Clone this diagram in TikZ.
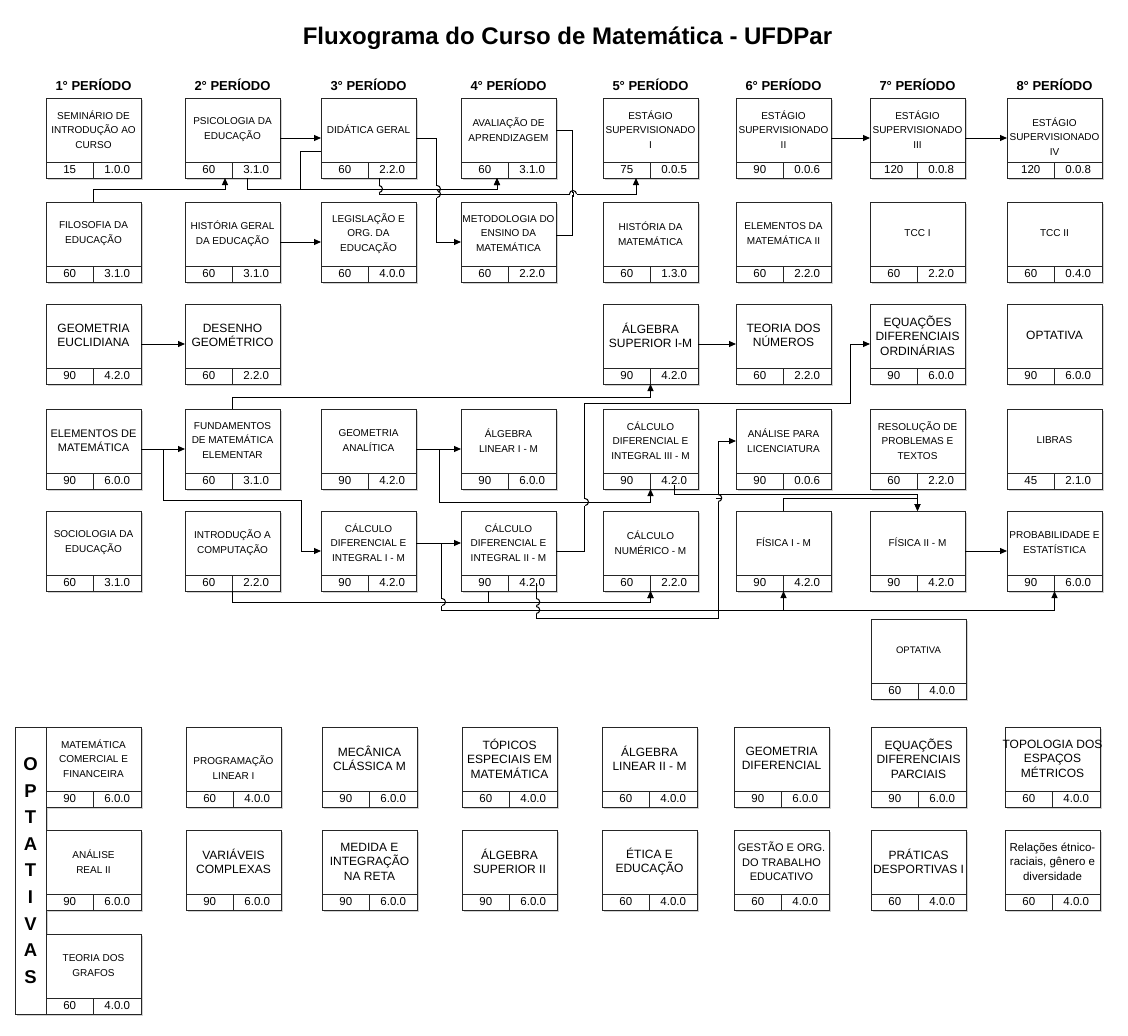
\documentclass[tikz,border=0pt]{standalone}
\usepackage{fontspec}
\setmainfont{Liberation Sans}
\usetikzlibrary{arrows.meta,positioning,shadows}

% caixa de disciplina: [estilo do texto]{nome}{posicao}{texto}{carga}{creditos}
\newcommand{\disciplina}[6][]{%
  \node[disc] (#2) at (#3) {};
  \node[txt,#1] (#2-t) at ([yshift=-31.5pt]#2.north) {#4};
  \draw[divisa] ([yshift=16pt]#2.south west) -- ([yshift=16pt]#2.south east)
    (#2.south) -- ([yshift=16pt]#2.south);
  \node[cell] (#2-h) at ([xshift=-23.75pt,yshift=8pt]#2.south) {#5};
  \node[cell] (#2-c) at ([xshift=23.75pt,yshift=8pt]#2.south) {#6};
}
% saltos nos cruzamentos
\newcommand{\saltov}[2]{%
  \draw[white, line width=2.2pt] (#1,#2-3.5) -- (#1,#2+3.5);
  \draw[ln] (#1-2.5,#2) -- (#1+2.5,#2);
  \draw[ln] (#1,#2-3.5) arc[start angle=90, end angle=-90, radius=3.5pt];
}
\newcommand{\saltoh}[2]{%
  \draw[white, line width=2.2pt] (#1-3.5,#2) -- (#1+3.5,#2);
  \draw[ln] (#1,#2-2.5) -- (#1,#2+2.5);
  \draw[ln] (#1-3.5,#2) arc[start angle=180, end angle=0, radius=3.5pt];
}

\begin{document}
\begin{tikzpicture}[
  x=1pt, y=-1pt,
  disc/.style={rectangle, draw=black!85, line width=1pt, fill=white, minimum width=95pt, minimum height=80pt,
    inner sep=0pt, outer sep=0pt, anchor=north west,
    drop shadow={shadow xshift=2pt, shadow yshift=-2pt, fill=black, opacity=0.18}},
  txt/.style={align=center, inner sep=0pt, font=\fontsize{10}{14.5}\selectfont},
  medio/.style={font=\fontsize{11}{14.5}\selectfont},
  grande/.style={font=\fontsize{12}{14.5}\selectfont},
  cell/.style={inner sep=0pt, font=\fontsize{11.5}{13}\selectfont},
  divisa/.style={draw=black!85, line width=1pt},
  ln/.style={line width=1pt},
  arr/.style={-{Triangle[length=7pt,width=6pt]}, line width=1pt},
  per/.style={anchor=base, font=\bfseries\fontsize{13}{15}\selectfont},
  barra/.style={rectangle, draw=black!85, line width=1pt, fill=white, minimum width=31pt, minimum height=287pt,
    inner sep=0pt, outer sep=0pt, anchor=north west,
    drop shadow={shadow xshift=2pt, shadow yshift=-2pt, fill=black, opacity=0.18}}
]
  \useasboundingbox (0,0) rectangle (1128,1036);

  \node[anchor=base, font=\bfseries\fontsize{24}{28}\selectfont] (titulo) at (567.5,45) {Fluxograma do Curso de Matemática - UFDPar};

  % 1a linha
  \disciplina{semin}{46,98}{SEMINÁRIO DE\\INTRODUÇÃO AO\\CURSO}{15}{1.0.0}
  \disciplina{psico}{185,98}{PSICOLOGIA DA\\EDUCAÇÃO}{60}{3.1.0}
  \disciplina{didat}{321,98}{DIDÁTICA GERAL}{60}{2.2.0}
  \disciplina{aval}{461,98}{AVALIAÇÃO DE\\APRENDIZAGEM}{60}{3.1.0}
  \disciplina{est1}{603,98}{ESTÁGIO\\SUPERVISIONADO\\I}{75}{0.0.5}
  \disciplina{est2}{736,98}{ESTÁGIO\\SUPERVISIONADO\\II}{90}{0.0.6}
  \disciplina{est3}{870,98}{ESTÁGIO\\SUPERVISIONADO\\III}{120}{0.0.8}
  \disciplina[yshift=-7pt]{est4}{1007,98}{ESTÁGIO\\SUPERVISIONADO\\IV}{120}{0.0.8}

  \node[per] (p1) at ([yshift=8pt]semin.north) {1° PERÍODO};
  \node[per] (p2) at ([yshift=8pt]psico.north) {2° PERÍODO};
  \node[per] (p3) at ([yshift=8pt]didat.north) {3° PERÍODO};
  \node[per] (p4) at ([yshift=8pt]aval.north) {4° PERÍODO};
  \node[per] (p5) at ([yshift=8pt]est1.north) {5° PERÍODO};
  \node[per] (p6) at ([yshift=8pt]est2.north) {6° PERÍODO};
  \node[per] (p7) at ([yshift=8pt]est3.north) {7° PERÍODO};
  \node[per] (p8) at ([yshift=8pt]est4.north) {8° PERÍODO};

  % 2a linha
  \disciplina{filos}{46,202}{FILOSOFIA DA\\EDUCAÇÃO}{60}{3.1.0}
  \disciplina{histg}{185,202}{HISTÓRIA GERAL\\DA EDUCAÇÃO}{60}{3.1.0}
  \disciplina{legis}{321,202}{LEGISLAÇÃO E\\ORG. DA\\EDUCAÇÃO}{60}{4.0.0}
  \disciplina{metod}{461,202}{METODOLOGIA DO\\ENSINO DA\\MATEMÁTICA}{60}{2.2.0}
  \disciplina{histm}{603,202}{HISTÓRIA DA\\MATEMÁTICA}{60}{1.3.0}
  \disciplina{elem2}{736,202}{ELEMENTOS DA\\MATEMÁTICA II}{60}{2.2.0}
  \disciplina{tcc1}{870,202}{TCC I}{60}{2.2.0}
  \disciplina{tcc2}{1007,202}{TCC II}{60}{0.4.0}

  % 3a linha
  \disciplina[grande]{geoeuc}{46,304}{GEOMETRIA\\EUCLIDIANA}{90}{4.2.0}
  \disciplina[grande]{desenho}{185,304}{DESENHO\\GEOMÉTRICO}{60}{2.2.0}
  \disciplina[grande]{algsup}{603,304}{ÁLGEBRA\\SUPERIOR I-M}{90}{4.2.0}
  \disciplina[grande]{teoria}{736,304}{TEORIA DOS\\NÚMEROS}{60}{2.2.0}
  \disciplina[grande]{edo}{870,304}{EQUAÇÕES\\DIFERENCIAIS\\ORDINÁRIAS}{90}{6.0.0}
  \disciplina[grande]{opt1}{1007,304}{OPTATIVA}{90}{6.0.0}

  % 4a linha
  \disciplina[medio]{elem}{46,409}{ELEMENTOS DE\\MATEMÁTICA}{90}{6.0.0}
  \disciplina{fund}{185,409}{FUNDAMENTOS\\DE MATEMÁTICA\\ELEMENTAR}{60}{3.1.0}
  \disciplina{geoan}{321,409}{GEOMETRIA\\ANALÍTICA}{90}{4.2.0}
  \disciplina{alglin}{461,409}{ÁLGEBRA\\LINEAR I - M}{90}{6.0.0}
  \disciplina{calc3}{603,409}{CÁLCULO\\DIFERENCIAL E\\INTEGRAL III - M}{90}{4.2.0}
  \disciplina{anal}{736,409}{ANÁLISE PARA\\LICENCIATURA}{90}{0.0.6}
  \disciplina{resol}{870,409}{RESOLUÇÃO DE\\PROBLEMAS E\\TEXTOS}{60}{2.2.0}
  \disciplina{libras}{1007,409}{LIBRAS}{45}{2.1.0}

  % 5a linha
  \disciplina{socio}{46,511}{SOCIOLOGIA DA\\EDUCAÇÃO}{60}{3.1.0}
  \disciplina{intro}{185,511}{INTRODUÇÃO A\\COMPUTAÇÃO}{60}{2.2.0}
  \disciplina{calc1}{321,511}{CÁLCULO\\DIFERENCIAL E\\INTEGRAL I - M}{90}{4.2.0}
  \disciplina{calc2}{461,511}{CÁLCULO\\DIFERENCIAL E\\INTEGRAL II - M}{90}{4.2.0}
  \disciplina{calcnum}{603,511}{CÁLCULO\\NUMÉRICO - M}{60}{2.2.0}
  \disciplina{fis1}{736,511}{FÍSICA I - M}{90}{4.2.0}
  \disciplina{fis2}{870,511}{FÍSICA II - M}{90}{4.2.0}
  \disciplina{prob}{1007,511}{PROBABILIDADE E\\ESTATÍSTICA}{90}{6.0.0}

  \disciplina[font=\fontsize{9.5}{14}\selectfont]{opt2}{871,619}{OPTATIVA}{60}{4.0.0}

  % optativas
  \node[barra] (optbar) at (15,727) {};
  \node[align=center, inner sep=0pt, font=\bfseries\fontsize{18.5}{26.6}\selectfont] (optlbl) at (optbar.center) {O\\P\\T\\A\\T\\I\\V\\A\\S};

  \disciplina{matcom}{46,727}{MATEMÁTICA\\COMERCIAL E\\FINANCEIRA}{90}{6.0.0}
  \disciplina[yshift=-9pt]{proglin}{186,727}{PROGRAMAÇÃO\\LINEAR I}{60}{4.0.0}
  \disciplina[grande]{mecan}{322,727}{MECÂNICA\\CLÁSSICA M}{90}{6.0.0}
  \disciplina[grande]{topicos}{462,727}{TÓPICOS\\ESPECIAIS EM\\MATEMÁTICA}{60}{4.0.0}
  \disciplina[grande]{alglin2}{602,727}{ÁLGEBRA\\LINEAR II - M}{60}{4.0.0}
  \disciplina[grande]{geodif}{734,727}{GEOMETRIA\\DIFERENCIAL}{90}{6.0.0}
  \disciplina[grande]{edp}{871,727}{EQUAÇÕES\\DIFERENCIAIS\\PARCIAIS}{90}{6.0.0}
  \disciplina[grande]{topol}{1005,727}{TOPOLOGIA DOS\\ESPAÇOS\\MÉTRICOS}{60}{4.0.0}

  \disciplina{analre}{46,830}{ANÁLISE\\REAL II}{90}{6.0.0}
  \disciplina[grande]{varcom}{186,830}{VARIÁVEIS\\COMPLEXAS}{90}{6.0.0}
  \disciplina[grande]{medida}{322,830}{MEDIDA E\\INTEGRAÇÃO\\NA RETA}{90}{6.0.0}
  \disciplina[grande]{algsup2}{462,830}{ÁLGEBRA\\SUPERIOR II}{90}{6.0.0}
  \disciplina[grande]{etica}{602,830}{ÉTICA E\\EDUCAÇÃO}{60}{4.0.0}
  \disciplina[medio]{gestao}{734,830}{GESTÃO E ORG.\\DO TRABALHO\\EDUCATIVO}{60}{4.0.0}
  \disciplina[grande]{prat}{871,830}{PRÁTICAS\\DESPORTIVAS I}{60}{4.0.0}
  \disciplina[font=\fontsize{11.5}{14.5}\selectfont]{relac}{1005,830}{Relações étnico-\\raciais, gênero e\\diversidade}{60}{4.0.0}

  \disciplina{grafos}{46,934}{TEORIA DOS\\GRAFOS}{60}{4.0.0}

  % pre-requisitos
  \draw[arr] (psico.east) -- (didat.west);
  \draw[arr] (filos.north) -- ++(0,-13) -| ([xshift=-7.5pt]psico.south);
  \draw[arr] ([xshift=14.5pt]psico.south) -- ++(0,11) -| ([xshift=-11.5pt]aval.south);
  \draw[arr] ([yshift=-13pt]didat.west) -- ++(-21,0) -- ++(0,38) -| ([xshift=-11.5pt]aval.south);
  \draw[arr] ([xshift=10.5pt]didat.south) -- ++(0,16) -| ([xshift=-14.5pt]est1.south);
  \draw[arr] (didat.east) -- ++(20,0) |- (metod.west);
  \draw[ln] ([yshift=8pt]aval.east) -- ++(16,0) |- ([yshift=7pt]metod.east);
  \draw[arr] (histg.east) -- (legis.west);
  \draw[arr] (geoeuc.east) -- (desenho.west);
  \draw[arr] (algsup.east) -- (teoria.west);
  \draw[arr] (est2.east) -- (est3.west);
  \draw[arr] (est3.east) -- (est4.west);

  \draw[arr] (elem.east) -- (fund.west);
  \draw[arr] (elem.east) -- ++(22,0) -- ++(0,51) -- ++(138,0) |- (calc1.west);
  \draw[arr] (fund.north) -- ++(0,-12) -| (algsup.south);
  \draw[arr] (geoan.east) -- (alglin.west);
  \draw[arr] (geoan.east) -- ++(23,0) -- ++(0,53) -| (calc3.south);
  \draw[arr] ([yshift=8pt]calc1.east) -- ([yshift=8pt]calc2.west);
  \draw[arr] ([yshift=8pt]calc1.east) -- ++(25,0) -- ++(0,67) -| (fis1.south);
  \draw[arr] ([yshift=8pt]calc1.east) -- ++(25,0) -- ++(0,67) -| (prob.south);
  \draw[arr] (calc2.east) -- ++(28,0) -- ++(0,-148) -- ++(266,0) |- (edo.west);
  \draw[arr] ([xshift=4pt]calc2-c.center) -- ++(0,35) -- ++(182,0) |- ([yshift=8pt]anal.west);
  \draw[arr] (intro.south) -- ++(0,11) -| (calcnum.south);
  \draw[arr] ([xshift=-20.5pt]calc2.south) -- ++(0,11) -| (calcnum.south);
  \draw[arr] (calc3-c.south) -- ++(0,9) -| (fis2.north);
  \draw[arr] (fis1.north) -- ++(0,-13) -| (fis2.north);
  \draw[arr] (fis2.east) -- (prob.west);

  % saltos
  \saltov{379}{189}
  \saltov{437}{189}
  \saltov{437}{194}
  \saltoh{573}{194}
  \saltov{585}{502}
  \saltov{718.25}{498}
  \saltov{536.25}{602}
  \saltov{536.25}{610}
  \saltov{442}{602}
\end{tikzpicture}
\end{document}
